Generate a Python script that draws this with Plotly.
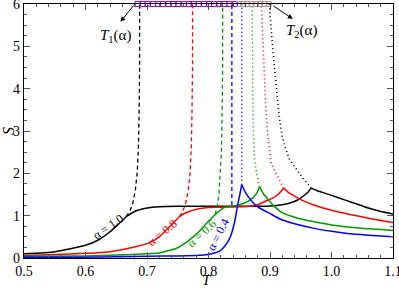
import plotly.graph_objects as go

# ---- data ----
T_solid_10 = [0.50, 0.55, 0.60, 0.62, 0.64, 0.655, 0.667, 0.68, 0.70, 0.72, 0.75, 0.80, 0.85, 0.90, 0.92, 0.935, 0.945, 0.955, 0.962, 0.967, 0.975, 0.985, 1.00, 1.02, 1.04, 1.06, 1.08, 1.10]
S_solid_10 = [0.10, 0.15, 0.30, 0.42, 0.62, 0.82, 0.98, 1.10, 1.18, 1.21, 1.22, 1.22, 1.22, 1.23, 1.26, 1.31, 1.37, 1.47, 1.56, 1.65, 1.60, 1.55, 1.48, 1.38, 1.28, 1.18, 1.10, 1.04]

T_solid_08 = [0.50, 0.55, 0.60, 0.64, 0.683, 0.705, 0.72, 0.737, 0.753, 0.765, 0.786, 0.81, 0.85, 0.87, 0.88, 0.891, 0.905, 0.913, 0.922, 0.93, 0.94, 0.95, 0.97, 1.00, 1.03, 1.06, 1.10]
S_solid_08 = [0.06, 0.08, 0.11, 0.15, 0.27, 0.37, 0.50, 0.74, 0.98, 1.08, 1.17, 1.20, 1.21, 1.23, 1.26, 1.33, 1.42, 1.50, 1.65, 1.55, 1.46, 1.38, 1.26, 1.13, 1.03, 0.94, 0.84]

T_solid_06 = [0.50, 0.60, 0.65, 0.70, 0.72, 0.748, 0.765, 0.775, 0.787, 0.797, 0.805, 0.813, 0.822, 0.83, 0.845, 0.855, 0.864, 0.872, 0.878, 0.883, 0.89, 0.897, 0.905, 0.92, 0.945, 0.97, 1.00, 1.05, 1.10]
S_solid_06 = [0.04, 0.05, 0.07, 0.10, 0.12, 0.23, 0.38, 0.50, 0.66, 0.82, 0.94, 1.05, 1.16, 1.21, 1.24, 1.28, 1.34, 1.42, 1.52, 1.68, 1.50, 1.38, 1.25, 1.07, 0.94, 0.86, 0.78, 0.70, 0.65]

T_solid_04 = [0.50, 0.60, 0.70, 0.75, 0.78, 0.791, 0.805, 0.818, 0.826, 0.834, 0.838, 0.842, 0.845, 0.848, 0.851, 0.854, 0.86, 0.866, 0.873, 0.88, 0.90, 0.918, 0.94, 0.972, 1.00, 1.026, 1.06, 1.10]
S_solid_04 = [0.02, 0.02, 0.04, 0.05, 0.06, 0.07, 0.10, 0.16, 0.27, 0.45, 0.60, 0.82, 1.05, 1.29, 1.50, 1.73, 1.55, 1.42, 1.30, 1.21, 1.05, 0.91, 0.81, 0.70, 0.63, 0.58, 0.54, 0.50]

# T1(alpha) branches (dashed)
T_t1_10 = [0.666, 0.672, 0.677, 0.681, 0.684, 0.686, 0.687, 0.688, 0.688]
S_t1_10 = [0.98, 1.10, 1.30, 1.60, 2.00, 2.60, 3.30, 4.50, 6.00]
T_t1_08 = [0.753, 0.758, 0.763, 0.767, 0.770, 0.772, 0.773, 0.774, 0.774]
S_t1_08 = [0.98, 1.10, 1.30, 1.60, 2.00, 2.60, 3.30, 4.50, 6.00]
T_t1_06 = [0.811, 0.814, 0.817, 0.819, 0.821, 0.822, 0.823, 0.823]
S_t1_06 = [1.03, 1.20, 1.50, 1.90, 2.50, 3.30, 4.50, 6.00]
T_t1_04 = [0.838, 0.838, 0.838]
S_t1_04 = [1.25, 2.00, 6.00]

# T2(alpha) branches (dotted)
T_t2_10 = [0.967, 0.962, 0.955, 0.948, 0.940, 0.932, 0.925, 0.920, 0.915, 0.911, 0.907, 0.903, 0.899]
S_t2_10 = [1.65, 1.73, 1.86, 2.00, 2.16, 2.32, 2.60, 2.87, 3.34, 3.90, 4.52, 5.20, 6.00]
T_t2_08 = [0.922, 0.918, 0.913, 0.907, 0.902, 0.899, 0.896, 0.893, 0.891, 0.888, 0.886]
S_t2_08 = [1.65, 1.78, 1.92, 2.08, 2.24, 2.60, 2.95, 3.60, 4.50, 5.30, 6.00]
T_t2_06 = [0.883, 0.881, 0.879, 0.877, 0.875, 0.873, 0.872, 0.871]
S_t2_06 = [1.68, 1.80, 1.92, 2.10, 2.32, 3.00, 4.00, 6.00]
T_t2_04 = [0.854, 0.854]
S_t2_04 = [1.73, 6.00]

# markers along the top edge
T_top_violet = [0.685, 0.693, 0.701, 0.710, 0.718, 0.726, 0.735, 0.743, 0.751, 0.760, 0.768, 0.776, 0.784, 0.793, 0.801, 0.809, 0.818, 0.826, 0.834, 0.843]
S_top_violet = [6.0] * len(T_top_violet)
T_top_brown = [0.849, 0.856, 0.863, 0.870, 0.877, 0.884, 0.891, 0.898]
S_top_brown = [6.0] * len(T_top_brown)

alpha_labels = ["α = 1.0", "α = 0.8", "α = 0.6", "α = 0.4"]
label_T = [0.636, 0.724, 0.790, 0.815]
label_S = [0.74, 0.60, 0.58, 0.55]
label_angle = [-35, -40, -43, -63]

x_ticks = [0.5, 0.6, 0.7, 0.8, 0.9, 1.0, 1.1]
y_ticks = [0, 1, 2, 3, 4, 5, 6]

BLACK = "#000000"
RED = "#ff0000"
GREEN = "#009a00"
BLUE = "#0000ff"
VIOLET = "rgb(148,0,211)"
BROWN = "rgb(188,143,143)"
FONT = "Liberation Serif, DejaVu Serif, serif"

fig = go.Figure()

series = [
    (T_solid_10, S_solid_10, T_t1_10, S_t1_10, T_t2_10, S_t2_10, BLACK),
    (T_solid_08, S_solid_08, T_t1_08, S_t1_08, T_t2_08, S_t2_08, RED),
    (T_solid_06, S_solid_06, T_t1_06, S_t1_06, T_t2_06, S_t2_06, GREEN),
    (T_solid_04, S_solid_04, T_t1_04, S_t1_04, T_t2_04, S_t2_04, BLUE),
]
for ts, ss, t1, s1, t2, s2, c in series:
    fig.add_trace(go.Scatter(x=t1, y=s1, mode="lines", line=dict(color=c, width=1.3, dash="4px,3px")))
    fig.add_trace(go.Scatter(x=t2, y=s2, mode="lines", line=dict(color=c, width=1.6, dash="1px,3px")))
    k = ss.index(max(ss))  # split at the cusp so it stays sharp
    fig.add_trace(go.Scatter(x=ts[:k + 1], y=ss[:k + 1], mode="lines",
                             line=dict(color=c, width=1.5, shape="spline", smoothing=0.5)))
    fig.add_trace(go.Scatter(x=ts[k:], y=ss[k:], mode="lines",
                             line=dict(color=c, width=1.5, shape="spline", smoothing=0.5)))

fig.add_trace(go.Scatter(x=T_top_violet, y=S_top_violet, mode="markers", cliponaxis=False,
                         marker=dict(symbol="square-open", size=5, color=VIOLET, line=dict(width=1, color=VIOLET))))
fig.add_trace(go.Scatter(x=T_top_brown, y=S_top_brown, mode="markers", cliponaxis=False,
                         marker=dict(symbol="square-open", size=5, color=BROWN, line=dict(width=1, color=BROWN))))

colors = [BLACK, RED, GREEN, BLUE]
for txt, tx, sy, ang, c in zip(alpha_labels, label_T, label_S, label_angle, colors):
    fig.add_annotation(x=tx, y=sy, text=txt, showarrow=False, textangle=ang,
                       font=dict(family=FONT, size=12, color=c))

# T1 / T2 labels with arrows
fig.add_annotation(x=0.657, y=5.58, ax=0.680, ay=6.0, axref="x", ayref="y", text="",
                   showarrow=True, arrowhead=2, arrowsize=1, arrowwidth=1, arrowcolor=BLACK)
fig.add_annotation(x=0.648, y=5.25, text="<i>T</i><sub>1</sub>(α)", showarrow=False,
                   font=dict(family=FONT, size=15, color=BLACK))
fig.add_annotation(x=0.937, y=5.65, ax=0.903, ay=5.98, axref="x", ayref="y", text="",
                   showarrow=True, arrowhead=2, arrowsize=1, arrowwidth=1, arrowcolor=BLACK)
fig.add_annotation(x=0.952, y=5.37, text="<i>T</i><sub>2</sub>(α)", showarrow=False,
                   font=dict(family=FONT, size=15, color=BLACK))

# axis title T (placed as annotation for exact position)
fig.add_annotation(x=0.496, y=-0.126, xref="paper", yref="paper", yanchor="bottom", text="<i>T</i>",
                   showarrow=False, font=dict(family=FONT, size=15, color=BLACK))

axis_common = dict(showline=True, linecolor=BLACK, linewidth=1.2, mirror="allticks",
                   ticks="inside", ticklen=6, tickwidth=1, tickcolor="#555",
                   showgrid=False, zeroline=False, ticklabeloverflow="allow",
                   tickfont=dict(family=FONT, size=14, color=BLACK))

fig.update_xaxes(range=[0.5, 1.1], tickvals=x_ticks, ticktext=[f"{v:.1f}" for v in x_ticks],
                 minor=dict(ticks="inside", ticklen=3, dtick=0.02, tick0=0.5, tickcolor="#555", showgrid=False),
                 **axis_common)
fig.update_yaxes(range=[0, 6.001], tickvals=y_ticks,
                 minor=dict(ticks="inside", ticklen=3, dtick=0.25, tick0=0, tickcolor="#555", showgrid=False),
                 title=dict(text="<i>S</i>", font=dict(family=FONT, size=16, color=BLACK), standoff=2),
                 **axis_common)

fig.update_layout(width=399, height=288, margin=dict(l=24, r=6, t=4, b=30, autoexpand=False),
                  paper_bgcolor="white", plot_bgcolor="white", showlegend=False)

fig.write_html("out.html", config={"displayModeBar": False},
               post_script="document.body.style.margin='0';")
